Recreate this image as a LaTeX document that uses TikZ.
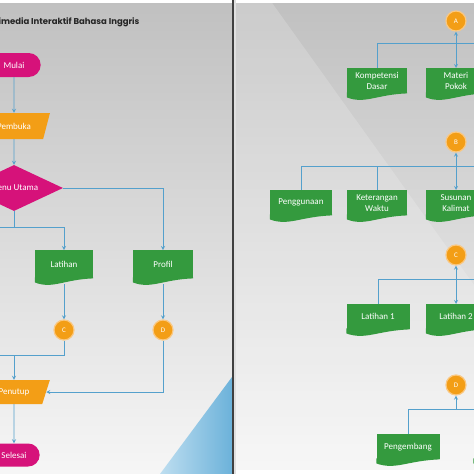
\documentclass[tikz,border=0pt]{standalone}
\usepackage{fontspec}
\setmainfont{Carlito}
\newfontfamily\titlefont{Poppins}
\usetikzlibrary{arrows}
\usetikzlibrary{shapes.geometric}
\usetikzlibrary{shapes.misc}
\usetikzlibrary{calc}
\definecolor{magentaf}{RGB}{214,18,122}
\definecolor{oranye}{RGB}{243,158,22}
\definecolor{hijau}{RGB}{52,154,62}
\definecolor{garis}{RGB}{84,160,204}
\definecolor{cincin}{RGB}{250,200,130}
\definecolor{latatas}{RGB}{192,192,192}
\definecolor{latbawah}{RGB}{246,246,246}
\definecolor{biru1}{RGB}{190,222,240}
\definecolor{biru2}{RGB}{108,178,218}
\tikzset{term/.style={rounded rectangle, fill=magentaf, text=white, minimum width=60pt, minimum height=24pt, font=\fontsize{9}{11}\selectfont}}
\tikzset{io/.style={trapezium, trapezium left angle=70, trapezium right angle=110, trapezium stretches=true,
      fill=oranye, text=white, minimum width=72pt, minimum height=26pt, font=\fontsize{9}{11}\selectfont}}
\tikzset{decision/.style={diamond, aspect=2.1, fill=magentaf, text=white, minimum width=98pt, minimum height=46pt,
      inner sep=1pt, font=\fontsize{9}{11}\selectfont}}
\tikzset{conn/.style={circle, fill=oranye, draw=cincin, line width=1.2pt, text=white, minimum size=20pt,
      inner sep=0pt, font=\fontsize{7}{8}\selectfont}}
\tikzset{doc/.style={rectangle, anchor=north, fill=hijau, text=white, align=center, inner sep=1pt,
      minimum width=#1, minimum height=25pt, font=\fontsize{9}{11}\selectfont,
      append after command={\pgfextra{\fill[hijau] ([yshift=1pt]\tikzlastnode.south east) -- (\tikzlastnode.south east)
        .. controls ($(\tikzlastnode.south west)!.5!(\tikzlastnode.south east)+(0pt,-1pt)$)
        and ($(\tikzlastnode.south west)!.3!(\tikzlastnode.south east)+(0pt,-11pt)$)
        .. ([yshift=-4pt]\tikzlastnode.south west) -- ([yshift=1pt]\tikzlastnode.south west) -- cycle;}}},
  doc/.default=60pt}
\tikzset{alur/.style={draw=garis, line width=0.8pt}}

\begin{document}
\begin{tikzpicture}[x=1pt,y=-1pt,>=stealth]
\useasboundingbox (0,0) rectangle (474,474);
\clip (0,0) rectangle (474,474);
% latar
\shade[top color=latatas, bottom color=latbawah] (0,0) rectangle (232,474);
\shade[left color=biru1, right color=biru2] (160,474) -- (232,377) -- (232,474) -- cycle;
\shade[top color=latatas, bottom color=latbawah] (235,0) rectangle (474,474);
\fill[white, opacity=.18] (235,0) -- (270,0) -- (474,285) -- (474,474) -- (235,474) -- cycle;
\fill[white] (0,0) rectangle (474,3);
\fill[white] (235,470) rectangle (474,474);
\fill[black!75] (232,0) rectangle (234,474);
\fill[black!12] (234,0) rectangle (236,474);

% alur utama
\node[anchor=east, font=\titlefont\bfseries\fontsize{8.5}{10}\selectfont, text=black!85] (judul) at (143,22) {Multimedia Interaktif Bahasa Inggris};
\node[term] (mulai) at (14,65) {Mulai};
\node[io] (pembuka) at (14,126) {Pembuka};
\node[decision] (menu) at (14,188) {Menu Utama};
\node[doc=58pt, minimum height=28pt] (latihan) at (64,250) {Latihan};
\node[doc=60pt, minimum height=28pt] (profil) at (163,250) {Profil};
\node[conn] (cl) at (64,330) {C};
\node[conn] (dl) at (163,330) {D};
\node[io, minimum height=24pt] (penutup) at (14,392) {Penutup};
\node[term, minimum width=58pt, minimum height=23pt] (selesai) at (14,455) {Selesai};
\coordinate (sp1) at (14,227);
\coordinate (sp1L) at (-5,227);
\coordinate (sp2) at (14,355);
\coordinate (sp2L) at (-5,355);
\draw[alur,->] (mulai) -- (pembuka);
\draw[alur,->] (pembuka) -- (menu);
\draw[alur,->] (menu.east) -| (profil.north);
\draw[alur] (menu.south) -- (sp1);
\draw[alur,->] (sp1L) -| (latihan.north);
\draw[alur,->,shorten <=6pt] (latihan) -- (cl);
\draw[alur,->,shorten <=6pt] (profil) -- (dl);
\draw[alur] (cl) |- (sp2L);
\draw[alur,->] (sp2) -- (penutup);
\draw[alur,->] (dl) |- (penutup.east);
\draw[alur,->] (penutup) -- (selesai);

% halaman kanan
\node[conn] (a) at (456,21) {A};
\node[doc] (kd) at (377,68) {Kompetensi\\Dasar};
\node[doc] (mp) at (456,68) {Materi\\Pokok};
\coordinate (aR) at (480,43);
\draw[alur,<->] (a) -- (mp);
\draw[alur] (kd.north) |- (aR);

\node[conn] (b) at (456,142) {B};
\node[doc=62pt] (pg) at (301,190) {Penggunaan};
\node[doc] (kw) at (377,190) {Keterangan\\Waktu};
\node[doc] (sk) at (456,190) {Susunan\\Kalimat};
\coordinate (bR) at (480,166);
\draw[alur,<->] (b) -- (sk);
\draw[alur] (pg.north) |- (bR);
\draw[alur] (kw.north) -- (kw.north |- bR);

\node[conn] (c) at (456,255) {C};
\node[doc=63pt] (l1) at (378,304) {Latihan 1};
\node[doc] (l2) at (456,304) {Latihan 2};
\coordinate (cR) at (480,279);
\draw[alur,<->] (c) -- (l2);
\draw[alur] (l1.north) |- (cR);

\node[conn] (d) at (456,385) {D};
\node[doc=63pt] (pe) at (408,434) {Pengembang};
\node[doc=63pt] (pe2) at (505,434) {};
\coordinate (dR) at (480,409);
\draw[alur] (pe.north) |- (dR);
\draw[alur,->] (d |- dR) -- (d);
\end{tikzpicture}
\end{document}
